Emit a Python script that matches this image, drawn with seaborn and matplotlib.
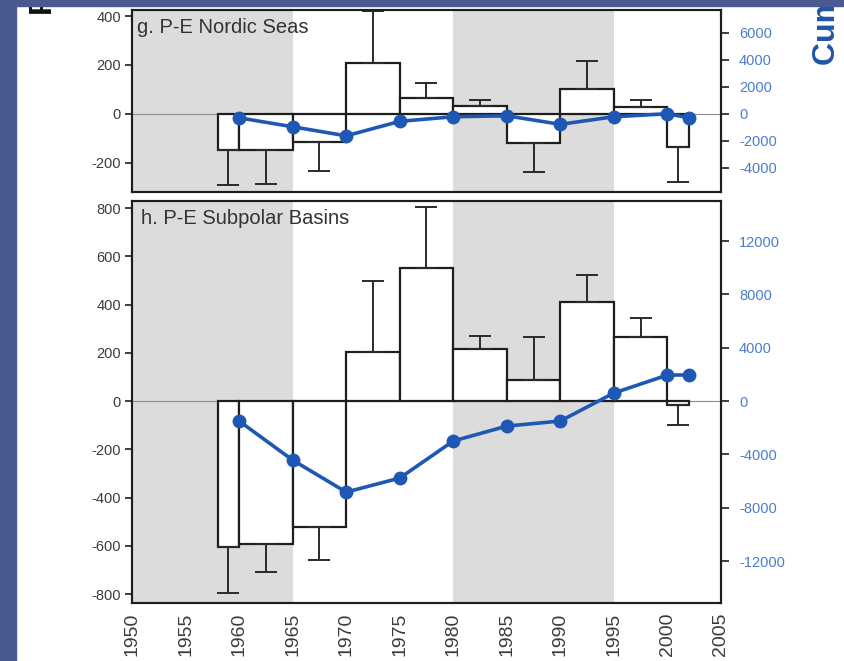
import numpy as np
import pandas as pd
import matplotlib
matplotlib.use("Agg")
import matplotlib.pyplot as plt
from matplotlib.patches import Rectangle
import seaborn as sns

# Averaging periods for the P-E bars (start / end year)
period_start = [1958, 1960, 1965, 1970, 1975, 1980, 1985, 1990, 1995, 2000]
period_end = [1960, 1965, 1970, 1975, 1980, 1985, 1990, 1995, 2000, 2002]

# g. Nordic Seas: mean P-E per period and one-sided uncertainty
nordic_pe = [-150, -148, -115, 209, 64, 33, -119, 103, 30, -135]
nordic_err = [140, 140, 119, 210, 64, 24, 119, 115, 27, 144]

# h. Subpolar Basins
subpolar_pe = [-605, -593, -522, 203, 551, 216, 87, 410, 265, -17]
subpolar_err = [191, 116, 137, 294, 253, 53, 178, 112, 79, 83]

# Cumulative P-E (right axis)
cum_years = [1960, 1965, 1970, 1975, 1980, 1985, 1990, 1995, 2000, 2002]
nordic_cum = [-300, -960, -1630, -560, -220, -150, -780, -220, 0, -300]
subpolar_cum = [-1500, -4430, -6830, -5780, -3000, -1880, -1500, 600, 1950, 1950]

year_ticks = list(range(1950, 2006, 5))
shaded_spans = [(1950, 1965), (1980, 1995)]

BLUE = "#1f57b5"
TICK_BLUE = "#4a7dcc"
GREY_TXT = "#3c3c3c"
EDGE = "#1e1e1e"

sns.set_theme(style="white")
plt.rcParams["font.family"] = ["Liberation Sans", "DejaVu Sans"]
plt.rcParams["axes.unicode_minus"] = False

fig = plt.figure(figsize=(8.45, 6.61), dpi=100, facecolor="white")

ax_top = fig.add_axes([0.1562, 0.7095, 0.6970, 0.2761])
ax_bot = fig.add_axes([0.1562, 0.0877, 0.6970, 0.6082])


def draw_panel(ax, pe, err, cum, ylim, yticks, rlim, rticks, title, title_xy):
    ax.set_facecolor("white")
    for a, b in shaded_spans:
        ax.axvspan(a, b, color="#dcdcdc", lw=0, zorder=0)
    ax.axhline(0, color="#8c8c8c", lw=0.8, zorder=1)

    starts = np.array(period_start, dtype=float)
    widths = np.array(period_end, dtype=float) - starts
    centers = starts + widths / 2
    vals = np.array(pe, dtype=float)
    errs = np.array(err, dtype=float)

    ax.bar(starts, vals, width=widths, align="edge", color="white",
           edgecolor=EDGE, linewidth=1.6, zorder=2)
    lower = np.where(vals < 0, errs, 0)
    upper = np.where(vals >= 0, errs, 0)
    ax.errorbar(centers, vals, yerr=[lower, upper], fmt="none",
                ecolor="#2a2a2a", elinewidth=1.4, capsize=8, capthick=1.4,
                zorder=3)

    ax.set_xlim(1950, 2005)
    ax.set_ylim(*ylim)
    ax.set_yticks(yticks)
    ax.set_yticklabels([str(v) for v in yticks])
    ax.set_xticks(year_ticks)
    ax.tick_params(axis="y", direction="out", length=5, width=1.2,
                   color=EDGE, labelsize=10.5, labelcolor=GREY_TXT, pad=3)
    ax.tick_params(axis="x", direction="in", length=6, width=1.2,
                   color=EDGE, labelsize=14, labelcolor=GREY_TXT, pad=7,
                   labelrotation=90)
    for s in ax.spines.values():
        s.set_color(EDGE)
        s.set_linewidth(1.5)
        s.set_visible(True)
    ax.grid(False)

    ax.text(title_xy[0], title_xy[1], title, transform=ax.transAxes,
            ha="left", va="top", fontsize=14.5, color="#333333", zorder=5)

    ax2 = ax.twinx()
    sns.lineplot(x=cum_years, y=cum, ax=ax2, color=BLUE, marker="o",
                 markersize=10, linewidth=2.6, markeredgewidth=0)
    ax2.set_ylim(*rlim)
    ax2.set_yticks(rticks)
    ax2.set_yticklabels([str(v) for v in rticks])
    ax2.set_ylabel("")
    ax2.tick_params(axis="y", direction="out", length=6, width=1.2,
                    color=EDGE, labelsize=10.5, labelcolor=TICK_BLUE, pad=7)
    for s in ax2.spines.values():
        s.set_color(EDGE)
        s.set_linewidth(1.5)
    ax2.grid(False)
    return ax2


draw_panel(ax_top, nordic_pe, nordic_err, nordic_cum,
           (-320, 427), [-200, 0, 200, 400],
           (-5780, 7700), [-4000, -2000, 0, 2000, 4000, 6000],
           "g. P-E Nordic Seas", (0.008, 0.952))
ax_top.tick_params(axis="x", labelbottom=False)

draw_panel(ax_bot, subpolar_pe, subpolar_err, subpolar_cum,
           (-837, 829), list(range(-800, 801, 200)),
           (-15150, 15000), list(range(-12000, 12001, 4000)),
           "h. P-E Subpolar Basins", (0.015, 0.979))
ax_bot.set_xticklabels([str(y) for y in year_ticks])

# Axis titles running off the slide edges
fig.text(44 / 845, 1 - 15 / 661, "P-E (mm/yr)", rotation=90, ha="center",
         va="bottom", fontsize=23, fontweight="bold", color="#111111")
fig.text(827 / 845, 1 - 65 / 661, "Cumulative P-E", rotation=90,
         ha="center", va="bottom", fontsize=23, fontweight="bold",
         color="#2255a8")

# Slide background strips
slide = "#4a5a90"
fig.patches.append(Rectangle((0, 0), 16 / 845, 1, transform=fig.transFigure,
                             color=slide, zorder=20))
fig.patches.append(Rectangle((0, 1 - 6 / 661), 1, 6 / 661,
                             transform=fig.transFigure, color=slide, zorder=20))

fig.savefig("out.png", dpi=100, facecolor=fig.get_facecolor())
